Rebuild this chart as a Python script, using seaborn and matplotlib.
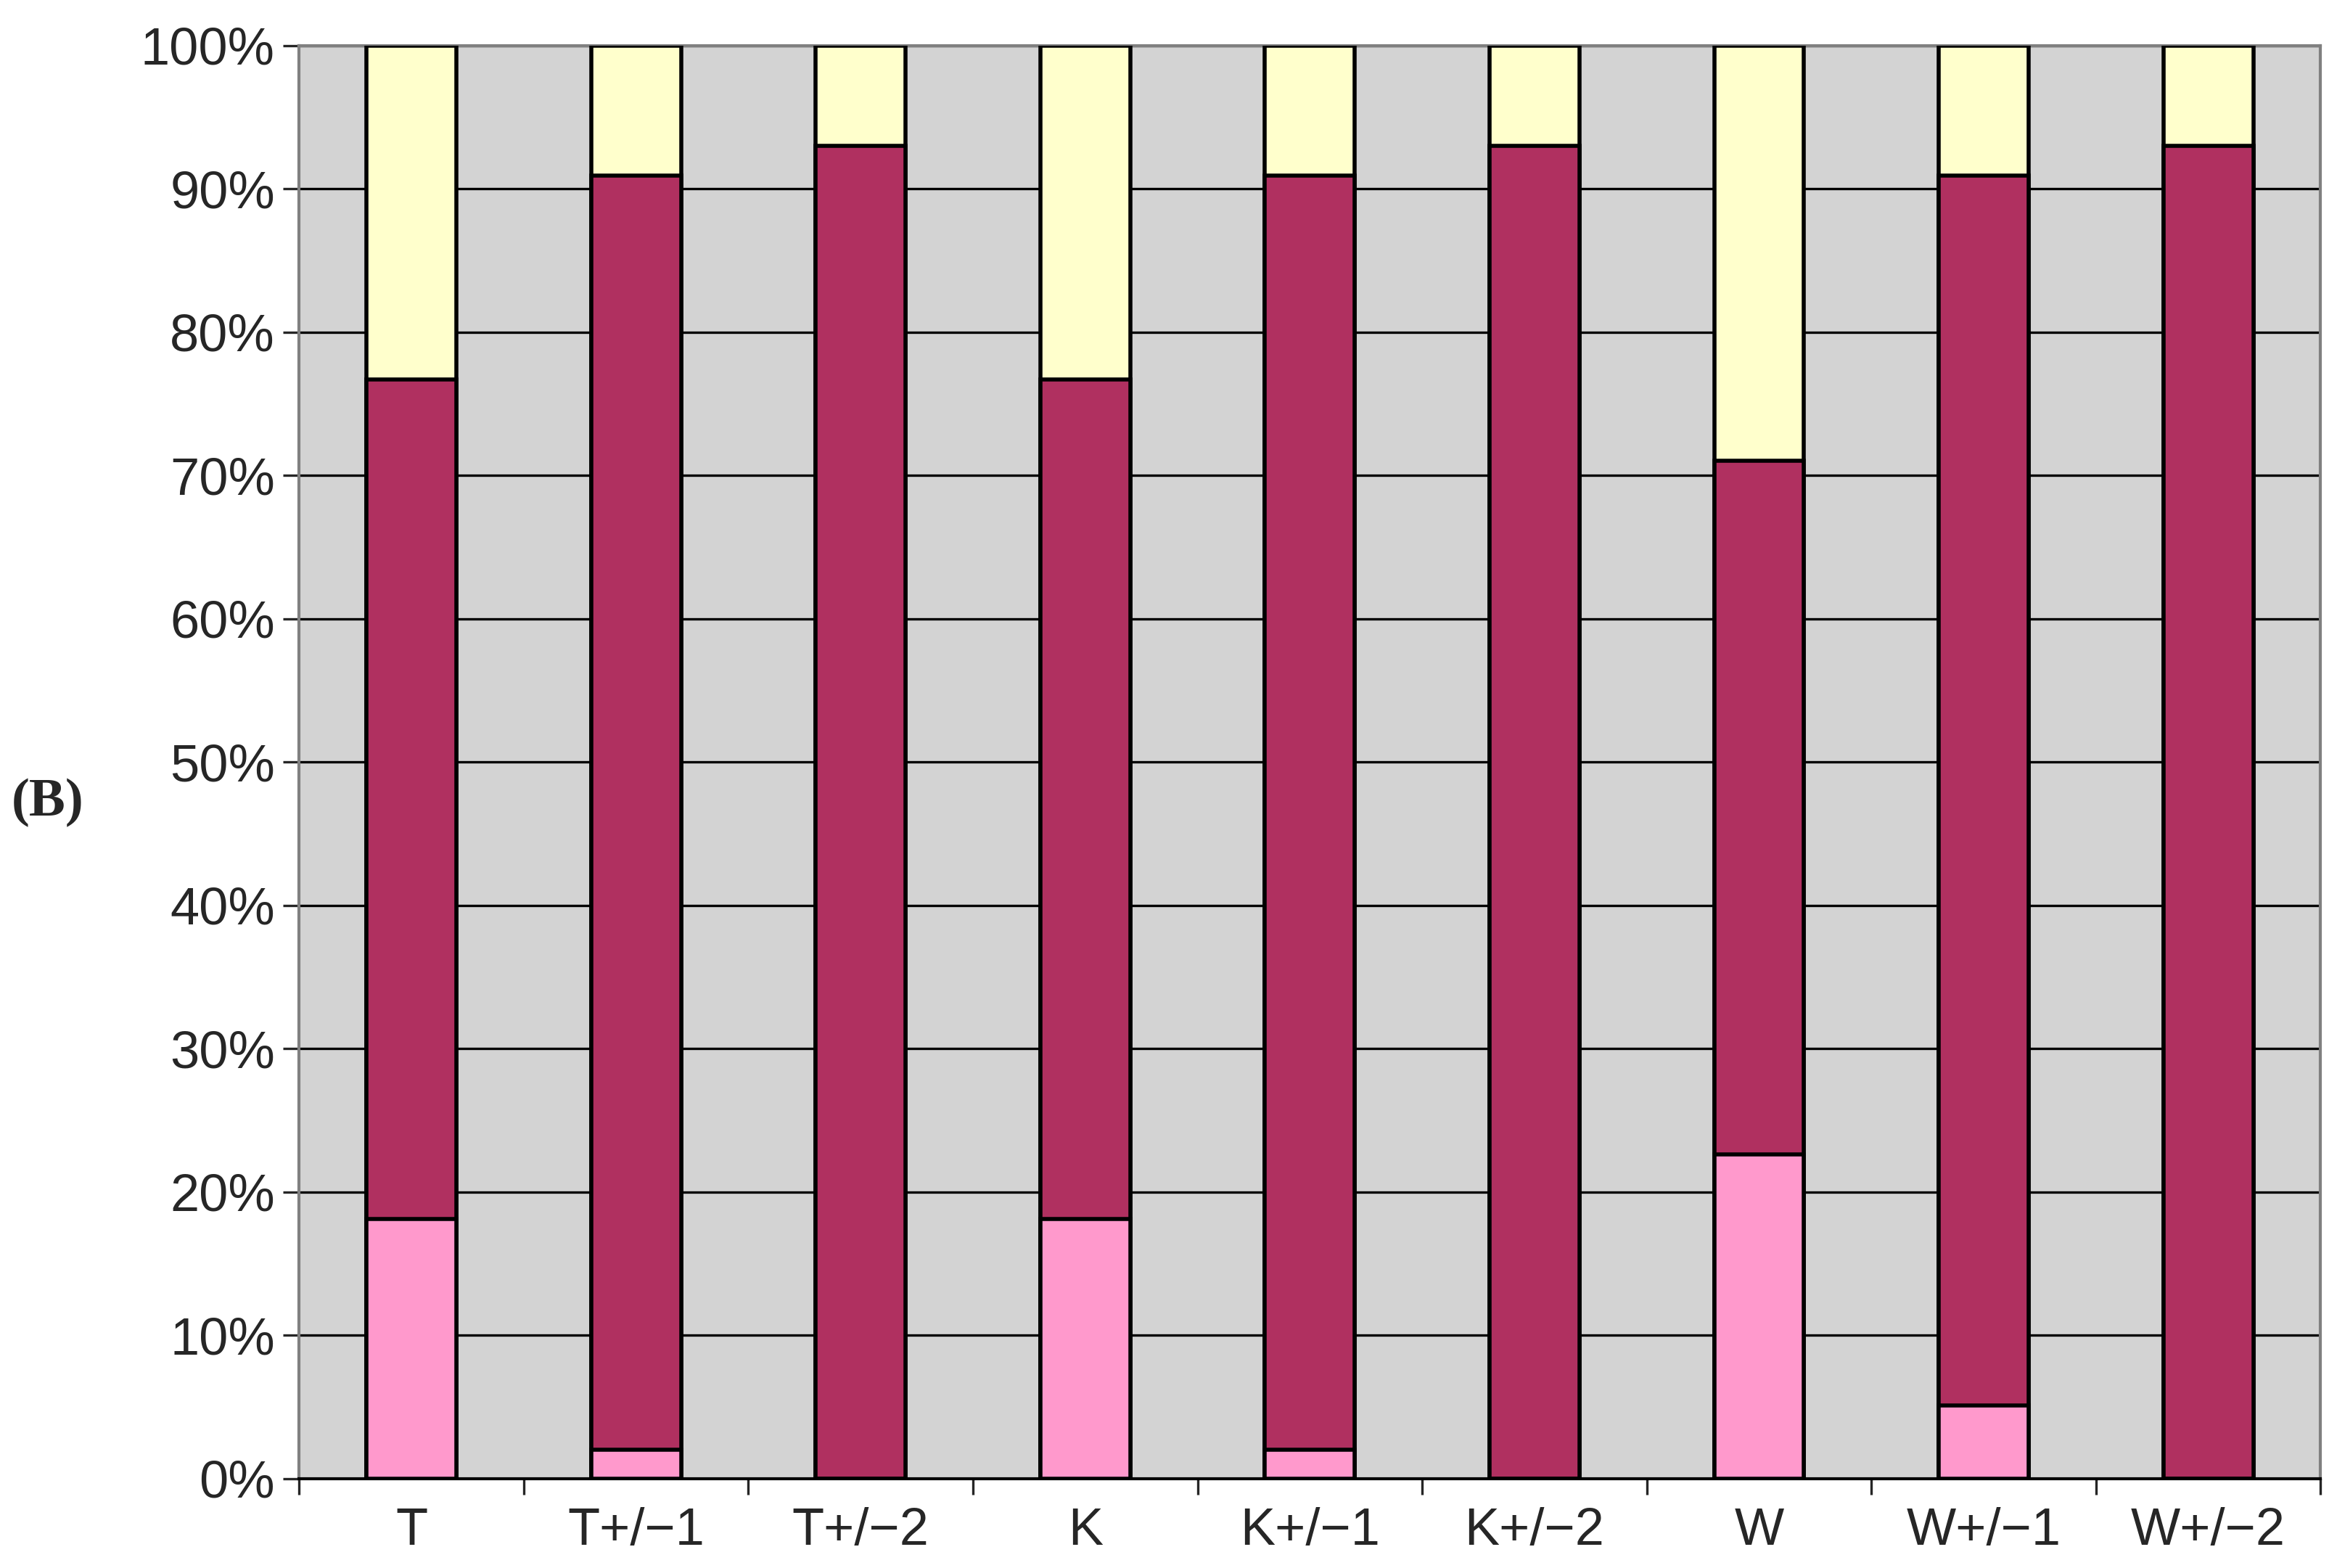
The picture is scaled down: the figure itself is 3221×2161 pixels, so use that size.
import numpy as np
import pandas as pd
import seaborn as sns
import matplotlib.pyplot as plt
from matplotlib.ticker import FixedLocator, PercentFormatter

categories = ['T', 'T+/\u22121', 'T+/\u22122', 'K', 'K+/\u22121', 'K+/\u22122', 'W', 'W+/\u22121', 'W+/\u22122']
pink = [18.1, 2.0, 0.0, 18.1, 2.0, 0.0, 22.6, 5.1, 0.0]
dark = [58.6, 88.9, 93.0, 58.6, 88.9, 93.0, 48.4, 85.8, 93.0]
yellow = [23.3, 9.1, 7.0, 23.3, 9.1, 7.0, 29.0, 9.1, 7.0]

df = pd.DataFrame({'cat': categories, 'pink': pink, 'dark': dark, 'yellow': yellow})
df['mid'] = df['pink'] + df['dark']
df['top'] = df['mid'] + df['yellow']

sns.set_style('white')
plt.rcParams['font.family'] = ['Liberation Sans', 'DejaVu Sans']

fig = plt.figure(figsize=(16.105, 10.805), dpi=200)
ax = fig.add_axes([0.128, 0.057, 0.865, 0.914])
ax.set_facecolor('#d3d3d3')

kw = dict(data=df, x='cat', width=0.4, edgecolor='black', linewidth=2,
          saturation=1, ax=ax, zorder=3)
sns.barplot(y='top', color='#ffffcc', **kw)
sns.barplot(y='mid', color='#b03060', **kw)
sns.barplot(y='pink', color='#ff99cc', **kw)

ax.set_ylim(0, 100)
ax.set_xlim(-0.5, len(categories) - 0.5)
ax.yaxis.set_major_locator(FixedLocator(np.arange(0, 101, 10)))
ax.yaxis.set_major_formatter(PercentFormatter(decimals=0))
ax.grid(axis='y', color='black', linewidth=1.2, zorder=1)
ax.set_axisbelow(True)
ax.set_xlabel('')
ax.set_ylabel('')
for s in ax.spines.values():
    s.set_color('#808080')
    s.set_linewidth(1.5)
ax.spines['bottom'].set_color('black')

ax.tick_params(axis='y', labelsize=26, length=8, width=1.2, direction='out', left=True, pad=4)
ax.tick_params(axis='x', which='major', labelsize=26, length=0, pad=14)
ax.set_xticks(np.arange(-0.5, len(categories)), minor=True)
ax.tick_params(axis='x', which='minor', length=8, width=1.2, direction='out', bottom=True)

fig.text(0.005, 0.488, '(B)', fontsize=27, fontweight='bold', family='Liberation Serif', ha='left', va='center')

fig.savefig('out.png', dpi=200)
